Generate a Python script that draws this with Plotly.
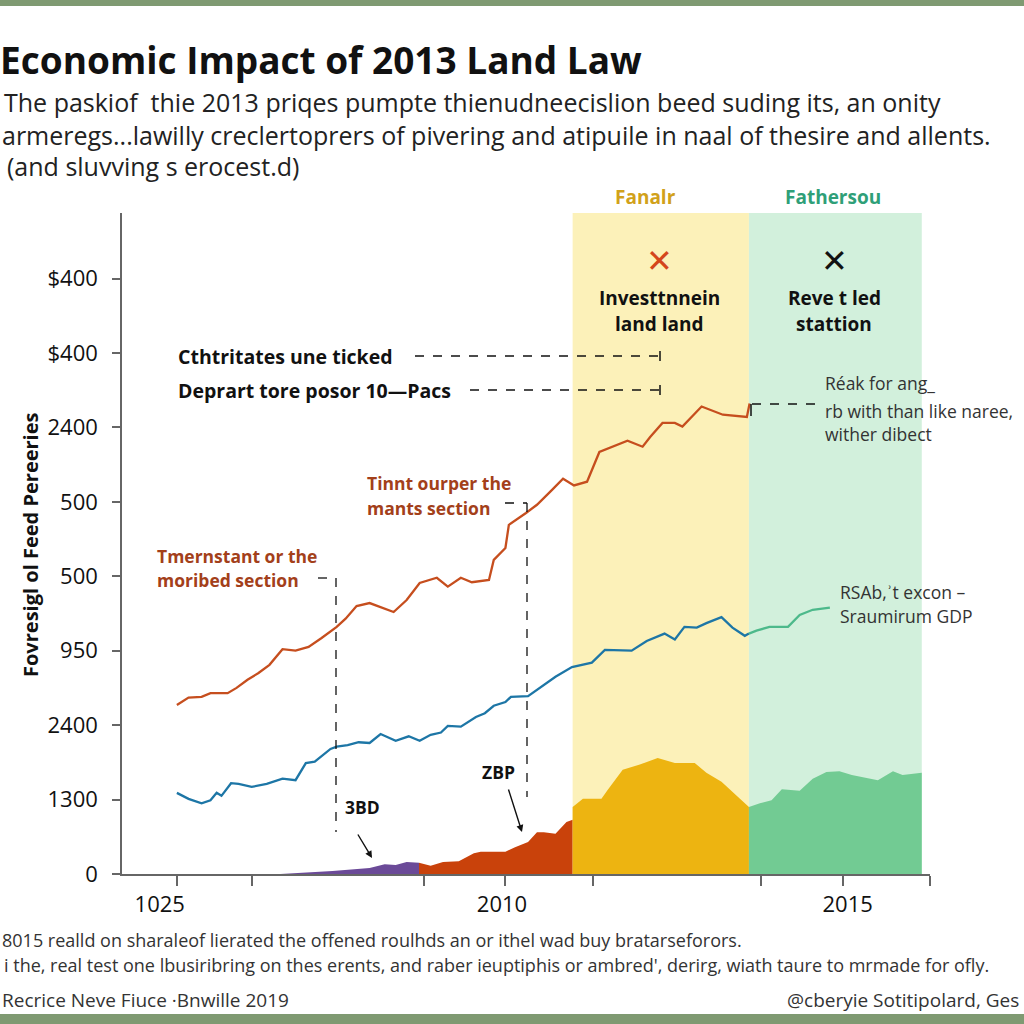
import plotly.graph_objects as go

# ---------------- data ----------------
orange_x = [2005.22, 2005.39, 2005.58, 2005.71, 2005.96, 2006.09, 2006.25, 2006.41, 2006.57, 2006.76,
            2006.95, 2007.14, 2007.33, 2007.55, 2007.68, 2007.84, 2008.03, 2008.22, 2008.38, 2008.57,
            2008.76, 2009.01, 2009.17, 2009.36, 2009.52, 2009.77, 2009.84, 2010.01, 2010.06, 2010.31,
            2010.47, 2010.69, 2010.85, 2011.01, 2011.20, 2011.38, 2011.57, 2011.79, 2012.01, 2012.12,
            2012.30, 2012.48, 2012.59, 2012.87, 2013.18, 2013.53, 2013.57]
orange_y = [2.27, 2.37, 2.38, 2.43, 2.43, 2.50, 2.61, 2.70, 2.81, 3.02,
            3.00, 3.05, 3.17, 3.32, 3.43, 3.60, 3.64, 3.58, 3.52, 3.68,
            3.91, 3.98, 3.86, 3.98, 3.92, 3.95, 4.22, 4.38, 4.69, 4.85,
            4.96, 5.16, 5.31, 5.22, 5.27, 5.67, 5.74, 5.82, 5.74, 5.87,
            6.06, 6.06, 6.01, 6.28, 6.17, 6.14, 6.32]

blue_x = [2005.22, 2005.39, 2005.58, 2005.71, 2005.80, 2005.87, 2006.01, 2006.12, 2006.31, 2006.53,
          2006.76, 2006.95, 2007.10, 2007.23, 2007.46, 2007.55, 2007.71, 2007.87, 2008.03, 2008.19,
          2008.41, 2008.60, 2008.76, 2008.92, 2009.07, 2009.17, 2009.36, 2009.58, 2009.71, 2009.84,
          2010.01, 2010.09, 2010.34, 2010.52, 2010.74, 2010.98, 2011.27, 2011.46, 2011.85, 2012.07,
          2012.33, 2012.48, 2012.62, 2012.80, 2012.94, 2013.16, 2013.32, 2013.50, 2013.56]
blue_y = [1.09, 1.01, 0.95, 0.99, 1.09, 1.05, 1.22, 1.21, 1.17, 1.21,
          1.28, 1.26, 1.49, 1.51, 1.68, 1.71, 1.73, 1.77, 1.76, 1.88,
          1.79, 1.85, 1.79, 1.87, 1.90, 1.99, 1.98, 2.11, 2.16, 2.26,
          2.31, 2.38, 2.39, 2.51, 2.65, 2.78, 2.84, 3.01, 3.00, 3.13,
          3.23, 3.15, 3.32, 3.31, 3.37, 3.45, 3.31, 3.20, 3.23]

green_x = [2013.56, 2013.67, 2013.86, 2014.13, 2014.30, 2014.49, 2014.74]
green_y = [3.23, 3.27, 3.32, 3.32, 3.48, 3.55, 3.58]

purple_area_x = [2006.73, 2007.49, 2008.03, 2008.25, 2008.41, 2008.57, 2008.75]
purple_area_y = [0.00, 0.04, 0.08, 0.13, 0.12, 0.16, 0.15]

orange_area_x = [2008.75, 2008.92, 2009.10, 2009.33, 2009.55, 2009.65, 2010.01, 2010.15, 2010.34,
                 2010.47, 2010.57, 2010.74, 2010.90, 2010.99]
orange_area_y = [0.15, 0.11, 0.16, 0.17, 0.28, 0.30, 0.30, 0.36, 0.43,
                 0.56, 0.56, 0.54, 0.70, 0.73]

yellow_area_x = [2010.99, 2011.14, 2011.41, 2011.50, 2011.72, 2011.97, 2012.23, 2012.48, 2012.77,
                 2012.94, 2013.16, 2013.32, 2013.56]
yellow_area_y = [0.90, 1.01, 1.01, 1.13, 1.40, 1.47, 1.56, 1.49, 1.49,
                 1.36, 1.24, 1.10, 0.90]

green_area_x = [2013.56, 2013.72, 2013.89, 2014.04, 2014.30, 2014.49, 2014.69, 2014.88, 2015.06,
                2015.25, 2015.44, 2015.66, 2015.80, 2016.08]
green_area_y = [0.90, 0.95, 0.99, 1.14, 1.12, 1.28, 1.37, 1.38, 1.33,
                1.29, 1.26, 1.38, 1.33, 1.36]

band_yellow = [2010.99, 2013.56]
band_green = [2013.56, 2016.08]

y_tickvals = [0, 1, 2, 3, 4, 5, 6, 7, 8]
y_ticktext = ["0", "1300", "2400", "950", "500", "500", "2400", "$400", "$400"]
x_label_vals = [2004.97, 2009.96, 2015.0]
x_label_text = ["1025", "2010", "2015"]
x_minor_ticks = [2005.22, 2006.31, 2008.82, 2010.0, 2011.28, 2013.73, 2014.93, 2016.2]

# ---------------- layout helpers (pixel -> paper) ----------------
L, R, T, B = 122, 930, 213, 874
def PX(px):
    return (px - L) / (R - L)
def PY(py):
    return (B - py) / (B - T)

FONT = "Open Sans, Liberation Sans, Arial, sans-serif"
fig = go.Figure()

def area(x, y, color):
    fig.add_trace(go.Scatter(x=x, y=y, mode="lines", fill="tozeroy", fillcolor=color,
                             line=dict(width=0, color=color), showlegend=False, hoverinfo="skip"))

area(purple_area_x, purple_area_y, "#6B4A98")
area(orange_area_x, orange_area_y, "#C9420B")
area(yellow_area_x, yellow_area_y, "#EDB411")
area(green_area_x, green_area_y, "#72CB93")

fig.add_trace(go.Scatter(x=orange_x, y=orange_y, mode="lines", line=dict(color="#C64E1E", width=2.3),
                         showlegend=False))
fig.add_trace(go.Scatter(x=blue_x, y=blue_y, mode="lines", line=dict(color="#1D76A6", width=2.3),
                         showlegend=False))
fig.add_trace(go.Scatter(x=green_x, y=green_y, mode="lines", line=dict(color="#4DB98B", width=2.3),
                         showlegend=False))

shapes = [
    dict(type="rect", xref="x", yref="paper", x0=band_yellow[0], x1=band_yellow[1], y0=0, y1=1,
         fillcolor="#FCF1B9", line=dict(width=0), layer="below"),
    dict(type="rect", xref="x", yref="paper", x0=band_green[0], x1=band_green[1], y0=0, y1=1,
         fillcolor="#D2F0DC", line=dict(width=0), layer="below"),
    # page borders
    dict(type="rect", xref="paper", yref="paper", x0=PX(0), x1=PX(1024), y0=PY(6), y1=PY(0),
         fillcolor="#7F9A72", line=dict(width=0)),
    dict(type="rect", xref="paper", yref="paper", x0=PX(0), x1=PX(1024), y0=PY(1024), y1=PY(1014),
         fillcolor="#7F9A72", line=dict(width=0)),
]

def dline(x0, y0, x1, y1, w=1.3):
    shapes.append(dict(type="line", xref="paper", yref="paper", x0=PX(x0), y0=PY(y0), x1=PX(x1), y1=PY(y1),
                       line=dict(color="#111", width=w, dash="dash")))

def sline(x0, y0, x1, y1, w=1.5):
    shapes.append(dict(type="line", xref="paper", yref="paper", x0=PX(x0), y0=PY(y0), x1=PX(x1), y1=PY(y1),
                       line=dict(color="#111", width=w)))

dline(415, 356, 660, 356); sline(660, 351, 660, 361)
dline(470, 390, 660, 390); sline(660, 385, 660, 395)
dline(505, 503, 527, 503); dline(527, 503, 527, 797)
dline(318, 578, 336, 578); dline(336, 578, 336, 832)
dline(752, 404, 815, 404); sline(751, 404, 751, 416)

ann = []
def text(t, px, py, size=18, color="#111", bold=False, anchor="left", family=FONT, angle=0):
    if bold:
        t = "<b>" + t + "</b>"
    ann.append(dict(text=t, x=PX(px), y=PY(py), xref="paper", yref="paper", showarrow=False,
                    xanchor=anchor, yanchor="middle", textangle=angle,
                    font=dict(size=size, color=color, family=family)))

text("Economic Impact of 2013 Land Law", -2, 60, size=37, bold=True)
text("The paskiof  thie 2013 priqes pumpte thienudneecislion beed suding its, an onity", 2, 102, size=25, color="#222")
text("armeregs...lawilly creclertoprers of pivering and atipuile in naal of thesire and allents.", 0, 135, size=25, color="#222")
text("(and sluvving s erocest.d)", 5, 166, size=25, color="#222")

text("Fanalr", 645, 197, size=19, color="#D1A11A", bold=True, anchor="center")
text("Fathersou", 833, 197, size=19, color="#2F9F78", bold=True, anchor="center")
text("✕", 659, 261, size=32, color="#D4461C", anchor="center", family="DejaVu Sans")
text("✕", 834, 261, size=32, color="#111", anchor="center", family="DejaVu Sans")
text("Investtnnein", 659, 298, size=19, bold=True, anchor="center")
text("land land", 659, 324, size=19, bold=True, anchor="center")
text("Reve t led", 834, 298, size=19, bold=True, anchor="center")
text("stattion", 834, 324, size=19, bold=True, anchor="center")

text("Cthtritates une ticked", 176, 356, size=19.5, bold=True)
text("Deprart tore posor 10—Pacs", 176, 390, size=19.5, bold=True)

text("Réak for ang_", 823, 383, size=17.5, color="#333")
text("rb with than like naree,", 823, 411, size=17.5, color="#333")
text("wither dibect", 823, 434, size=17.5, color="#333")

OR = "#A3401A"
text("Tinnt ourper the", 365, 483, size=17.5, color=OR, bold=True)
text("mants section", 365, 508, size=17.5, color=OR, bold=True)
text("Tmernstant or the", 155, 556, size=17.5, color=OR, bold=True)
text("moribed section", 155, 580, size=17.5, color=OR, bold=True)

text("RSAb,ʾt excon –", 838, 592, size=17.5, color="#333")
text("Sraumirum GDP", 838, 616, size=17.5, color="#333")

text("3BD", 362, 807, size=17.5, bold=True, anchor="center")
text("ZBP", 498, 772, size=17.5, bold=True, anchor="center")
for (hx, hy, tx, ty) in [(372, 858, 357, 833), (522, 832, 508, 788)]:
    ann.append(dict(text="", x=PX(hx), y=PY(hy), xref="paper", yref="paper", showarrow=True,
                    ax=tx - hx, ay=ty - hy, arrowhead=2, arrowsize=1, arrowwidth=1.4,
                    arrowcolor="#111", standoff=0, startstandoff=0))

text("Fovresigl ol Feed Pereeries", 30, 545, size=20, bold=True, anchor="center", angle=-90)

text("8015 realld on sharaleof lierated the offened roulhds an or ithel wad buy bratarseforors.", 0, 940,
     size=18, color="#333")
text("i the, real test one lbusiribring on thes erents, and raber ieuptiphis or ambred', derirg, wiath taure to mrmade for ofly.",
     2, 965, size=18, color="#333")
text("Recrice Neve Fiuce ·Bnwille 2019", 0, 1000, size=19, color="#333")
text("@cberyie Sotitipolard, Ges", 1021, 1000, size=19, color="#333", anchor="right")

fig.update_layout(
    width=1024, height=1024,
    margin=dict(l=L, r=1024 - R, t=T, b=1024 - B, pad=0),
    paper_bgcolor="white", plot_bgcolor="white",
    shapes=shapes, annotations=ann, showlegend=False,
    font=dict(family=FONT, color="#111"),
    xaxis=dict(range=[2004.42, 2016.2], showgrid=False, zeroline=False,
               showline=True, linecolor="#666", linewidth=1.5,
               tickmode="array", tickvals=x_label_vals, ticktext=x_label_text,
               ticks="outside", ticklen=10, tickcolor="rgba(0,0,0,0)",
               tickfont=dict(size=22, color="#111"),
               minor=dict(tickmode="array", tickvals=x_minor_ticks, ticks="outside",
                          ticklen=10, tickwidth=1.5, tickcolor="#666")),
    yaxis=dict(range=[0, 8.88], showgrid=False, zeroline=False,
               showline=True, linecolor="#666", linewidth=1.5,
               tickmode="array", tickvals=y_tickvals, ticktext=y_ticktext,
               ticks="outside", ticklen=8, tickwidth=1.5, tickcolor="#666",
               ticklabelstandoff=10,
               tickfont=dict(size=22, color="#111")),
)

fig.write_html("out.html", config={"displayModeBar": False},
               post_script="document.body.style.margin='0';document.body.style.overflow='hidden';")
